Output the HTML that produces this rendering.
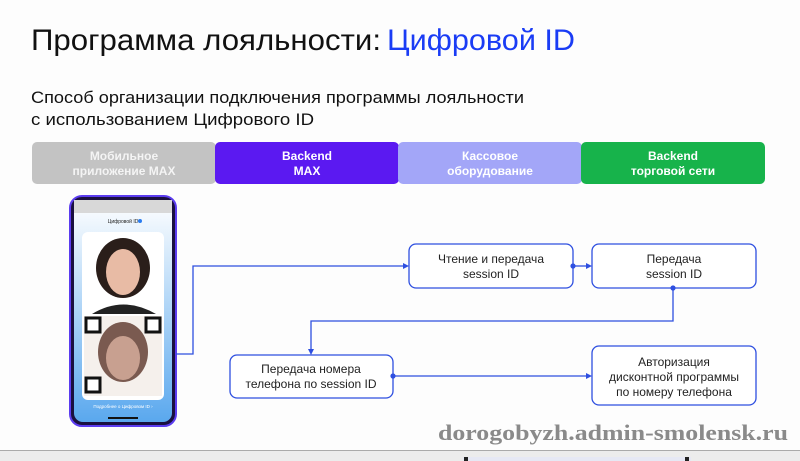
<!DOCTYPE html>
<html><head><meta charset="utf-8"><style>
html,body{margin:0;padding:0;background:#fff;}
svg{display:block;font-family:"Liberation Sans",sans-serif;}
</style></head><body>
<svg width="800" height="461" viewBox="0 0 800 461" xmlns="http://www.w3.org/2000/svg">
<rect width="800" height="461" fill="#fdfdfd"/>
<text x="31" y="50" font-size="30" fill="#111" textLength="350" lengthAdjust="spacingAndGlyphs">Программа лояльности:</text>
<text x="387" y="50" font-size="30" fill="#1a3cf5" textLength="188" lengthAdjust="spacingAndGlyphs">Цифровой ID</text>
<text x="31" y="103" font-size="17" fill="#111" textLength="493" lengthAdjust="spacingAndGlyphs">Способ организации подключения программы лояльности</text>
<text x="31" y="125" font-size="17" fill="#111" textLength="283" lengthAdjust="spacingAndGlyphs">с использованием Цифрового ID</text>
<!-- header bars -->
<rect x="32" y="142" width="184" height="42" rx="5" fill="#c3c3c3"/>
<rect x="215" y="142" width="184" height="42" rx="5" fill="#5b19f1"/>
<rect x="398" y="142" width="184" height="42" rx="5" fill="#a3a6f8"/>
<rect x="581" y="142" width="184" height="42" rx="5" fill="#17b34b"/>
<g font-size="12" font-weight="bold" fill="#fff" text-anchor="middle">
<text x="124" y="160" fill="#f4f4f4">Мобильное</text><text x="124" y="175" fill="#f4f4f4">приложение MAX</text>
<text x="307" y="160">Backend</text><text x="307" y="175">MAX</text>
<text x="490" y="160">Кассовое</text><text x="490" y="175">оборудование</text>
<text x="673" y="160">Backend</text><text x="673" y="175">торговой сети</text>
</g>
<!-- phone -->
<defs><linearGradient id="g" x1="0" y1="0" x2="0" y2="1"><stop offset="0" stop-color="#ffffff"/><stop offset="1" stop-color="#5aa8ee"/></linearGradient></defs>
<rect x="70" y="196" width="106" height="230" rx="12" fill="#1a1040" stroke="#5b3cf0" stroke-width="2"/>
<rect x="74" y="200" width="98" height="222" rx="9" fill="url(#g)"/>
<rect x="74" y="200" width="98" height="13" fill="#d8d8d8"/>
<text x="123" y="223" font-size="5" text-anchor="middle" fill="#222">Цифровой ID</text>
<circle cx="140" cy="221" r="2" fill="#2a7cf0"/>
<rect x="82" y="232" width="82" height="168" rx="6" fill="#fff"/>
<ellipse cx="123" cy="268" rx="27" ry="30" fill="#2a1e1a"/>
<ellipse cx="123" cy="272" rx="17" ry="23" fill="#e8bba5"/>
<path d="M92 314 Q123 295 156 314 Z" fill="#222"/>
<rect x="84" y="316" width="78" height="80" fill="#f5f0ec"/>
<ellipse cx="123" cy="352" rx="25" ry="30" fill="#7a5a50"/>
<ellipse cx="123" cy="358" rx="17" ry="22" fill="#c8a090"/>
<rect x="86" y="318" width="14" height="14" fill="#fff" stroke="#111" stroke-width="3"/>
<rect x="146" y="318" width="14" height="14" fill="#fff" stroke="#111" stroke-width="3"/>
<rect x="86" y="378" width="14" height="14" fill="#fff" stroke="#111" stroke-width="3"/>
<text x="123" y="408" font-size="4.5" text-anchor="middle" fill="#fff">Подробнее о Цифровом ID  ›</text>
<rect x="108" y="417" width="30" height="2" fill="#111"/>
<!-- connectors -->
<g stroke="#2e4fe0" stroke-width="1.3" fill="none">
<polyline points="176,354 193,354 193,266 405,266"/>
<line x1="573" y1="266" x2="588" y2="266"/>
<polyline points="673,288 673,321 311,321 311,351"/>
<line x1="393" y1="376" x2="588" y2="376"/>
</g>
<!-- boxes -->
<g fill="#fff" stroke="#2e4fe0" stroke-width="1.3">
<rect x="409" y="244" width="164" height="44" rx="7"/>
<rect x="592" y="244" width="164" height="44" rx="7"/>
<rect x="230" y="355" width="163" height="43" rx="7"/>
<rect x="592" y="346" width="164" height="59" rx="7"/>
</g>
<g fill="#2e4fe0">
<polygon points="409,266 403,263 403,269"/>
<polygon points="592,266 586,263 586,269"/>
<polygon points="311,355 308,349 314,349"/>
<polygon points="592,376 586,373 586,379"/>
<circle cx="573" cy="266" r="2.6"/><circle cx="673" cy="288" r="2.6"/><circle cx="393" cy="376" r="2.6"/>
</g>
<g font-size="12" fill="#222" text-anchor="middle">
<text x="491" y="263">Чтение и передача</text><text x="491" y="278">session ID</text>
<text x="674" y="263">Передача</text><text x="674" y="278">session ID</text>
<text x="311" y="373">Передача номера</text><text x="311" y="388">телефона по session ID</text>
<text x="674" y="366">Авторизация</text><text x="674" y="381">дисконтной программы</text><text x="674" y="396">по номеру телефона</text>
</g>
<text x="438" y="440" font-family="Liberation Serif,serif" font-size="22" font-weight="bold" fill="#8a8a8a" textLength="350" lengthAdjust="spacingAndGlyphs">dorogobyzh.admin-smolensk.ru</text>
<rect x="0" y="450" width="800" height="11" fill="#ececec"/>
<rect x="0" y="450" width="800" height="1" fill="#aaa"/>
<rect x="463" y="457" width="228" height="4" fill="#e6e8f4"/>
<rect x="464" y="457" width="4" height="4" fill="#222"/>
<rect x="685" y="457" width="4" height="4" fill="#222"/>
</svg>
</body></html>
